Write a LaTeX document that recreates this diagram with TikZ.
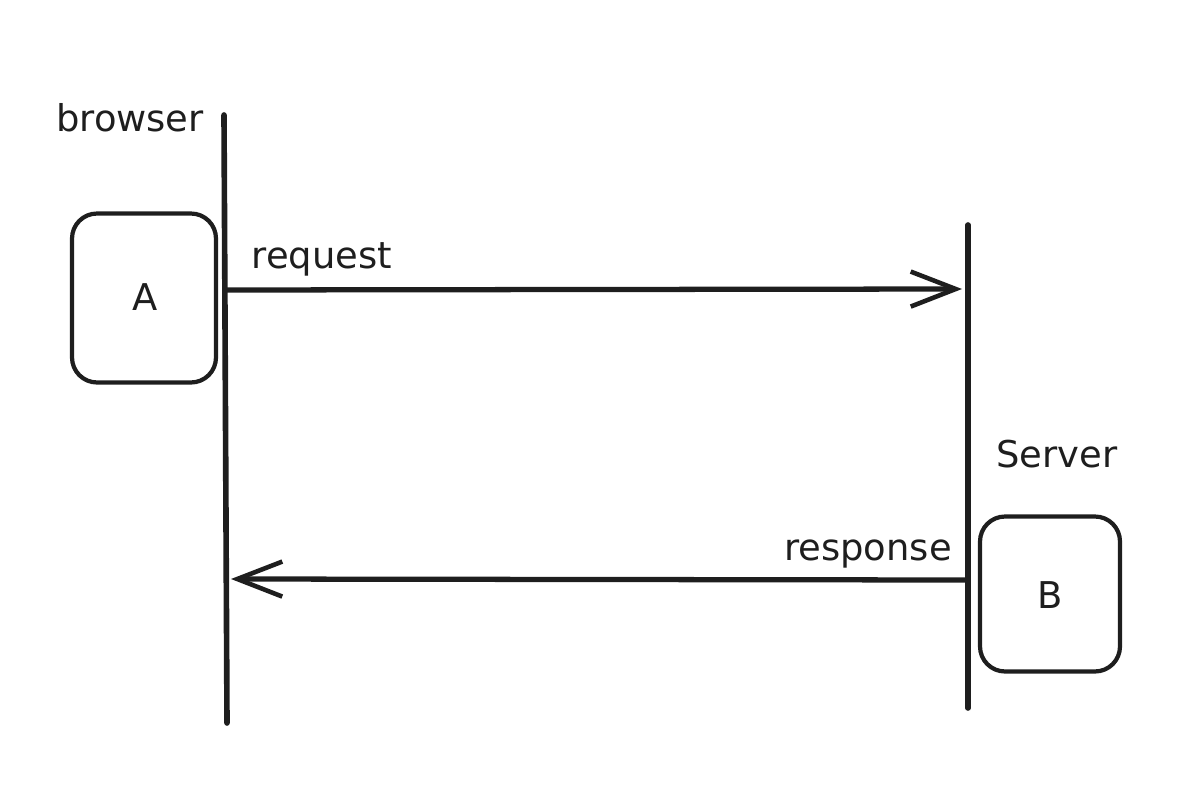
\documentclass[tikz,border=0pt]{standalone}
\usepackage{fontspec}
\setmainfont{DejaVu Sans}
\usetikzlibrary{arrows.meta}
\definecolor{inkc}{RGB}{30,30,30}
\tikzset{
  lifeline/.style={inkc,line width=3.2pt,line cap=round},
  actbox/.style={draw=inkc,line width=2.4pt,rounded corners=0.5cm,inner sep=0pt},
  msg/.style={inkc,line width=3pt,-{Straight Barb[length=0.9cm,width=0.7cm,line width=2.6pt]}},
  lbl/.style={anchor=base,text=inkc,font=\fontsize{21}{24}\selectfont}
}
\begin{document}
\begin{tikzpicture}[x=0.02cm,y=-0.02cm]
\useasboundingbox (0,0) rectangle (1200,794);
% lifelines
\coordinate (brtop) at (224,115);
\coordinate (brbot) at (227,723);
\coordinate (svtop) at (968,225);
\coordinate (svbot) at (968,708);
\draw[lifeline] (brtop) -- (brbot);
\draw[lifeline] (svtop) -- (svbot);
\node[lbl] (browser) at (130,132) {browser};
\node[lbl] (server) at (1057,467) {Server};
% boxes on each side
\node[actbox,minimum width=2.88cm,minimum height=3.38cm] (boxA) at (144,298) {};
\node[lbl] (labA) at (145,310) {A};
\node[actbox,minimum width=2.8cm,minimum height=3.1cm] (boxB) at (1050,594) {};
\node[lbl] (labB) at (1050,608) {B};
% messages
\coordinate (req-a) at (225,290);
\coordinate (req-b) at (962,289);
\coordinate (res-a) at (966,580);
\coordinate (res-b) at (231,579);
\draw[msg] (req-a) -- (req-b);
\node[lbl] (request) at (322,268) {request};
\draw[msg] (res-a) -- (res-b);
\node[lbl] (response) at (868,560) {response};
\end{tikzpicture}
\end{document}
